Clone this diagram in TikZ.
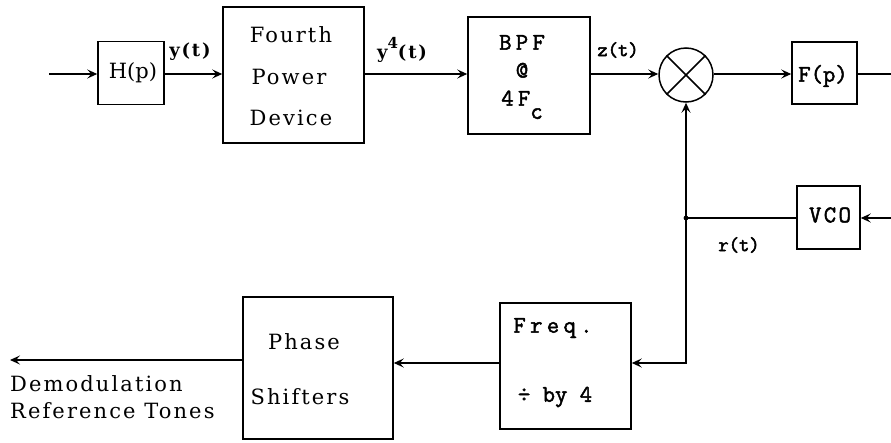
\documentclass[tikz,border=0pt]{standalone}
\usepackage{fontspec}
\setmainfont{DejaVu Serif}[LetterSpace=10]
\newfontfamily\monof{Latin Modern Mono}[FakeBold=2, LetterSpace=18]
\newfontfamily\sigf{Latin Modern Mono}[FakeBold=2.5]
\usetikzlibrary{arrows.meta}
\begin{document}
\begin{tikzpicture}[x=1pt,y=-1pt,
  blk/.style={draw, line width=1.5pt, inner sep=0pt},
  txt/.style={inner sep=0pt, font=\fontsize{21}{27}\selectfont},
  mtxt/.style={inner sep=0pt, font=\monof\fontsize{24}{28}\selectfont},
  sig/.style={inner sep=0pt, font=\sigf\fontsize{20}{22}\selectfont},
  bsig/.style={inner sep=0pt, font=\bfseries\fontsize{18}{20}\selectfont},
  line/.style={line width=1.2pt},
  arr/.style={line width=1.2pt, -{Stealth[length=10pt,width=9pt,inset=4pt]}}]
\useasboundingbox (0,0) rectangle (891,442);
% blocks
\node[blk, minimum width=66pt, minimum height=63pt] (H) at (131,73) {};
\node[txt] (Ht) at (133,73) {\addfontfeatures{LetterSpace=0}H(p)};
\node[blk, minimum width=141pt, minimum height=136pt] (P4) at (293.5,75) {};
\node[txt] (P4a) at (291,35) {Fourth};
\node[txt] (P4b) at (289,77) {Power};
\node[txt] (P4c) at (291,118) {Device};
\node[blk, minimum width=122pt, minimum height=117pt] (BPF) at (529,75.5) {};
\node[mtxt, align=center] (BPFt) at (522,77) {BPF\\@\\4F\raisebox{-0.55em}{c}};
\node[draw, circle, line width=1.5pt, minimum size=54pt, inner sep=0pt] (M) at (686,75) {};
\draw[line width=1.5pt] (M.north west) -- (M.south east) (M.north east) -- (M.south west);
\node[blk, minimum width=65pt, minimum height=62pt] (F) at (824.5,73) {};
\node[mtxt] (Ft) at (823,76) {\addfontfeatures{LetterSpace=0}F(p)};
\node[blk, minimum width=63pt, minimum height=63pt] (V) at (828.5,217.5) {};
\node[mtxt] (Vt) at (830,215) {\addfontfeatures{LetterSpace=10}VCO};
\node[blk, minimum width=131pt, minimum height=126pt] (D4) at (565.5,366) {};
\node[mtxt] (D4a) at (553,328) {Freq.};
\node[mtxt] (D4b) at (555,397) {\addfontfeatures{LetterSpace=0}÷ by 4};
\node[blk, minimum width=150pt, minimum height=142pt] (PS) at (318,368) {};
\node[txt] (PSa) at (304,342) {Phase};
\node[txt] (PSb) at (300,397) {Shifters};
% signal labels
\node[bsig] (yt) at (190,52) {y(t)};
\node[bsig] (y4t) at (402,50) {y\raisebox{0.55em}{\fontsize{15}{15}\selectfont 4}(t)};
\node[sig] (zt) at (618,50) {z(t)};
\node[sig] (rt) at (739,245) {r(t)};
\node[txt, anchor=west, align=left] (dm) at (10,397) {Demodulation\\Reference Tones};
% coordinates
\coordinate (in) at (49,74);
\coordinate (out) at (891,74);
\coordinate (vin) at (891,218);
\coordinate (J) at (686,218);
\coordinate (Jb) at (686,363);
\coordinate (dout) at (10,360);
% connectors
\draw[arr] (in) -- (in -| H.west);
\draw[arr] (H.east |- in) -- (P4.west |- in);
\draw[arr] (P4.east |- in) -- (BPF.west |- in);
\draw[arr] (BPF.east |- in) -- (M.west |- in);
\draw[arr] (M.east |- in) -- (F.west |- in);
\draw[line] (F.east |- out) -- (out);
\draw[arr] (vin) -- (V.east |- vin);
\draw[line] (V.west |- J) -- (J);
\draw[arr, line width=1.8pt] (J) -- (M.south);
\draw[arr, line width=1.8pt] (J) -- (Jb) -- (D4.east |- Jb);
\draw[arr] (D4.west |- Jb) -- (PS.east |- Jb);
\draw[arr] (PS.west |- dout) -- (dout);
\fill (J) circle (2.4pt);
\end{tikzpicture}
\end{document}
